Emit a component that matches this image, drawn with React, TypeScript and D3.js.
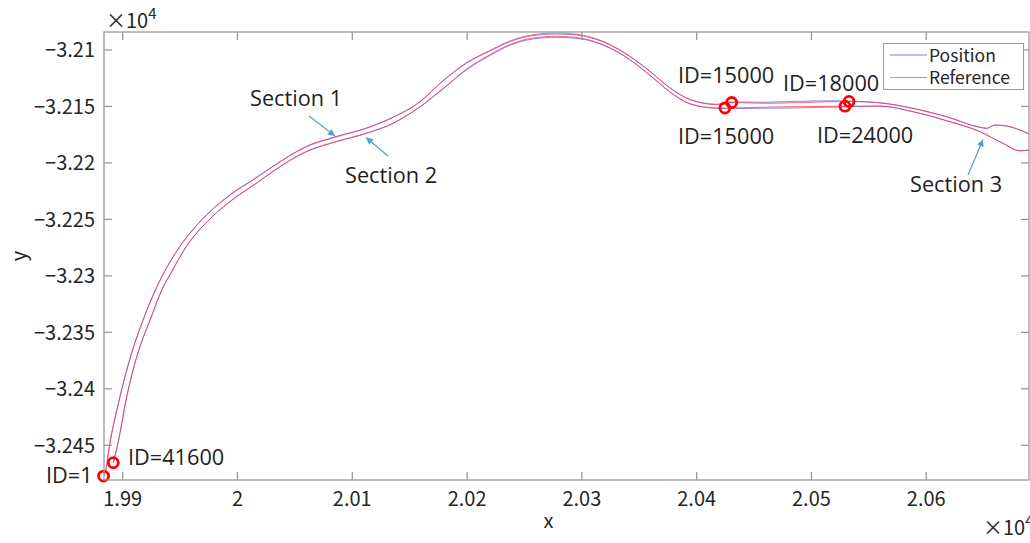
import { useMemo } from 'react';
import * as d3 from 'd3';

// outer lane (starts at ID=1)
const laneAX = [19883.3, 19884.6, 19888.9, 19897.6, 19907.8, 19917.7, 19929.6, 19939.5, 19952.5, 19973.2, 19996.1, 20013.5, 20030.9, 20060.3, 20084.9, 20112.5, 20135.7, 20159.0, 20176.4, 20199.7, 20219.9, 20237.4, 20257.4, 20278.0, 20298.3, 20321.6, 20341.9, 20359.3, 20376.7, 20394.2, 20417.4, 20430.5, 20457.8, 20487.1, 20516.1, 20532.7, 20559.7, 20588.4, 20617.8, 20646.8, 20652.6, 20659.8, 20670.0, 20681.6, 20694.7];
const laneARefY = [-32477.2, -32474.5, -32448.0, -32407.2, -32368.3, -32339.1, -32309.8, -32290.4, -32270.0, -32246.1, -32226.6, -32215.1, -32203.2, -32185.6, -32177.3, -32169.3, -32159.6, -32145.8, -32129.5, -32111.1, -32100.4, -32092.0, -32086.5, -32085.0, -32086.5, -32093.8, -32105.6, -32118.9, -32133.6, -32144.0, -32148.4, -32146.5, -32147.2, -32146.7, -32145.8, -32145.6, -32146.7, -32151.6, -32159.1, -32168.4, -32169.3, -32166.4, -32167.3, -32170.8, -32177.0];
const laneAPosY = [-32477.2, -32474.3, -32447.6, -32406.8, -32368.0, -32339.3, -32310.2, -32290.7, -32270.2, -32245.8, -32226.2, -32214.8, -32202.9, -32185.1, -32176.9, -32169.0, -32159.4, -32145.9, -32129.8, -32111.6, -32101.0, -32092.7, -32087.3, -32085.9, -32087.2, -32094.3, -32105.9, -32119.0, -32133.5, -32143.8, -32148.0, -32146.0, -32146.3, -32145.5, -32145.0, -32145.3, -32146.9, -32151.8, -32159.2, -32168.5, -32169.4, -32166.5, -32167.4, -32170.9, -32177.1];

// inner lane (ends at ID=41600)
const laneBX = [19891.8, 19895.9, 19903.5, 19912.2, 19923.8, 19934.0, 19942.9, 19955.7, 19976.0, 19999.3, 20016.7, 20030.9, 20060.3, 20086.4, 20112.5, 20135.7, 20159.0, 20179.3, 20202.5, 20219.9, 20237.4, 20257.4, 20278.0, 20298.3, 20321.6, 20341.9, 20359.3, 20376.7, 20394.2, 20417.4, 20424.6, 20457.8, 20487.1, 20529.2, 20559.7, 20588.4, 20617.8, 20646.8, 20666.8, 20681.6, 20690.3, 20698.0];
const laneBRefY = [-32465.4, -32448.0, -32407.2, -32371.8, -32339.1, -32312.5, -32295.7, -32273.5, -32249.6, -32229.9, -32218.0, -32207.6, -32190.0, -32181.2, -32173.8, -32164.9, -32150.2, -32133.9, -32114.8, -32104.2, -32095.1, -32089.4, -32087.9, -32089.4, -32096.7, -32108.6, -32122.4, -32137.2, -32147.8, -32151.4, -32151.4, -32150.7, -32150.2, -32149.8, -32149.6, -32154.6, -32162.6, -32172.3, -32182.6, -32189.2, -32188.6, -32185.0];
const laneBPosY = [-32465.2, -32447.7, -32406.9, -32371.6, -32339.2, -32312.8, -32296.0, -32273.8, -32249.5, -32229.6, -32217.7, -32207.3, -32189.6, -32180.9, -32173.6, -32164.8, -32150.4, -32134.3, -32115.4, -32104.9, -32095.8, -32090.3, -32088.8, -32090.1, -32097.1, -32108.8, -32122.5, -32137.1, -32147.6, -32151.6, -32151.9, -32151.6, -32151.3, -32150.4, -32149.8, -32154.7, -32162.7, -32172.4, -32182.7, -32189.3, -32188.7, -32185.1];

// circled samples
const markerX = [19883.3, 19891.8, 20430.5, 20424.6, 20532.7, 20529.2];
const markerY = [-32477.2, -32465.4, -32146.5, -32151.4, -32145.6, -32149.8];

const xTicks = [19900, 20000, 20100, 20200, 20300, 20400, 20500, 20600];
const yTicks = [-32100, -32150, -32200, -32250, -32300, -32350, -32400, -32450];

const W = 1030;
const H = 543;
const LEFT = 104;
const RIGHT = 1029;
const TOP = 32;
const BOTTOM = 480;
const TICK = 8;
const AX = '#262626';
const BOX = '#9a9a9a';
const TICK_FONT = '"Noto Sans CJK JP", "Liberation Sans", sans-serif';
const NOTE_FONT = '"Open Sans", "Noto Sans", sans-serif';
const ARROW = '#5b9bd5';

const fmt = (v: number) => {
  const s = String(Math.round(v) / 1e4);
  return s.replace('-', '\u2212');
};

export default function App() {
  const x = useMemo(() => d3.scaleLinear().domain([19883.7, 20689.5]).range([LEFT, RIGHT]), []);
  const y = useMemo(() => d3.scaleLinear().domain([-32480.7, -32084.1]).range([BOTTOM, TOP]), []);

  const line = d3.line<[number, number]>()
    .x((d) => x(d[0]))
    .y((d) => y(d[1]))
    .curve(d3.curveMonotoneX);

  const paths = [
    { d: line(laneAX.map((v, i) => [v, laneAPosY[i]])), c: '#3030ff', w: 0.9, o: 0.65 },
    { d: line(laneBX.map((v, i) => [v, laneBPosY[i]])), c: '#3030ff', w: 0.9, o: 0.65 },
    { d: line(laneAX.map((v, i) => [v, laneARefY[i]])), c: '#ff2a40', w: 0.9, o: 0.8 },
    { d: line(laneBX.map((v, i) => [v, laneBRefY[i]])), c: '#ff2a40', w: 0.9, o: 0.8 },
  ];

  const notes = [
    { t: 'ID=1', x: 46, y: 483 },
    { t: 'ID=41600', x: 128, y: 465 },
    { t: 'ID=15000', x: 678, y: 83 },
    { t: 'ID=15000', x: 678, y: 144 },
    { t: 'ID=18000', x: 783, y: 91 },
    { t: 'ID=24000', x: 817, y: 143 },
    { t: 'Section 1', x: 250, y: 106 },
    { t: 'Section 2', x: 345, y: 183 },
    { t: 'Section 3', x: 910, y: 192 },
  ];

  const arrows = [
    [309, 116, 335, 136],
    [388, 156, 366, 137.5],
    [968, 175, 983, 139.5],
  ];

  return (
    <div style={{ position: 'absolute', left: 0, top: 0 }}>
      <svg width={W} height={H} style={{ display: 'block', background: '#fff' }}>
        <defs>
          <clipPath id="plot">
            <rect x={LEFT} y={TOP} width={RIGHT - LEFT} height={BOTTOM - TOP} />
          </clipPath>
          <marker id="head" viewBox="0 0 10 10" refX="10" refY="5" markerWidth="9" markerHeight="7" markerUnits="userSpaceOnUse" orient="auto">
            <path d="M0,0 L10,5 L0,10 z" fill={ARROW} />
          </marker>
        </defs>

        <g clipPath="url(#plot)">
          {paths.map((p, i) => (
            <path key={i} d={p.d ?? ''} fill="none" stroke={p.c} strokeWidth={p.w} strokeOpacity={p.o} />
          ))}
        </g>

        {markerX.map((v, i) => (
          <circle key={i} cx={x(v)} cy={y(markerY[i])} r={5} fill="none" stroke="#ff0000" strokeWidth={2.8} />
        ))}

        {/* axes box and ticks */}
        <rect x={LEFT} y={TOP} width={RIGHT - LEFT} height={BOTTOM - TOP} fill="none" stroke={BOX} strokeWidth={1.3} />
        {xTicks.map((t) => (
          <g key={t}>
            <line x1={x(t)} x2={x(t)} y1={BOTTOM} y2={BOTTOM - TICK} stroke={BOX} strokeWidth={1.3} />
            <line x1={x(t)} x2={x(t)} y1={TOP} y2={TOP + TICK} stroke={BOX} strokeWidth={1.3} />
            <text x={x(t)} y={506} textAnchor="middle" fontFamily={TICK_FONT} fontSize={20} fill={AX}>{fmt(t)}</text>
          </g>
        ))}
        {yTicks.map((t) => (
          <g key={t}>
            <line x1={LEFT} x2={LEFT + TICK} y1={y(t)} y2={y(t)} stroke={BOX} strokeWidth={1.3} />
            <line x1={RIGHT} x2={RIGHT - TICK} y1={y(t)} y2={y(t)} stroke={BOX} strokeWidth={1.3} />
            <text x={95} y={y(t)} dy="0.36em" textAnchor="end" fontFamily={TICK_FONT} fontSize={20} fill={AX}>{fmt(t)}</text>
          </g>
        ))}

        <text x={106} y={28} fontFamily={TICK_FONT} fontSize={20} fill={AX}>
          ×10<tspan dy={-9} fontSize={15}>4</tspan>
        </text>
        <text x={983} y={535} fontFamily={TICK_FONT} fontSize={20} fill={AX}>
          ×10<tspan dy={-9} fontSize={15}>4</tspan>
        </text>
        <text x={(LEFT + RIGHT) / 2 - 18} y={528} textAnchor="middle" fontFamily={TICK_FONT} fontSize={20} fill={AX}>x</text>
        <text transform={`translate(26, ${(TOP + BOTTOM) / 2}) rotate(-90)`} textAnchor="middle" fontFamily={TICK_FONT} fontSize={20} fill={AX}>y</text>

        {/* legend */}
        <rect x={883.5} y={43.5} width={140} height={46} fill="#fff" stroke={BOX} strokeWidth={1} />
        <line x1={890} x2={927} y1={55} y2={55} stroke="#7b7bff" strokeWidth={1.2} />
        <line x1={890} x2={927} y1={77.5} y2={77.5} stroke="#ff7b7b" strokeWidth={1.2} />
        <text x={929} y={61.5} fontFamily={TICK_FONT} fontSize={17.5} fill={AX}>Position</text>
        <text x={929} y={84} fontFamily={TICK_FONT} fontSize={17.5} fill={AX}>Reference</text>

        {/* annotations */}
        {arrows.map((a, i) => (
          <line key={i} x1={a[0]} y1={a[1]} x2={a[2]} y2={a[3]} stroke={ARROW} strokeWidth={1.2} markerEnd="url(#head)" />
        ))}
        {notes.map((n, i) => (
          <text key={i} x={n.x} y={n.y} fontFamily={NOTE_FONT} fontSize={21.7} fill="#1e1e1e">{n.t}</text>
        ))}
      </svg>
    </div>
  );
}
